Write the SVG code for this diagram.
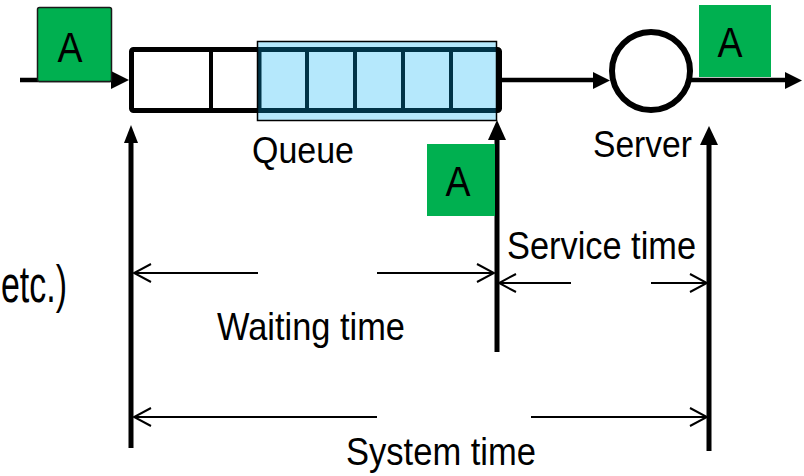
<svg xmlns="http://www.w3.org/2000/svg" width="804" height="476" viewBox="0 0 804 476">
<style>
.t{font-family:"Liberation Sans",Arial,sans-serif;fill:#000}
.lbl{font-size:39px}
.a{font-size:42px;text-anchor:middle}
.thick{stroke:#000;stroke-width:5;fill:none}
.flow{stroke:#000;stroke-width:4.5;fill:none}
.dim{stroke:#000;stroke-width:2;fill:none}
.green{fill:#00b050}
</style>
<defs>
<marker id="open" viewBox="0 0 20 20" refX="18" refY="10" markerWidth="20" markerHeight="20" markerUnits="userSpaceOnUse" orient="auto">
<path d="M1,1 L18,10 L1,19" fill="none" stroke="#000" stroke-width="2"/>
</marker>
</defs>

<g id="connectors">
<line class="flow" x1="20" y1="80" x2="112" y2="80"/>
<polygon points="111,71 129,80 111,89" fill="#000"/>
<line class="flow" x1="500" y1="80" x2="595" y2="80"/>
<polygon points="593,72 610,80.5 593,89" fill="#000"/>
<line class="flow" x1="690" y1="80" x2="787" y2="80"/>
<polygon points="785,72 802,80.5 785,89" fill="#000"/>
<line class="thick" x1="131" y1="140" x2="131" y2="448"/>
<polygon points="124,143 131,125 138,143" fill="#000"/>
<line class="thick" x1="497" y1="136" x2="497" y2="352"/>
<polygon points="488,140 497,120 506,140" fill="#000"/>
<line class="thick" x1="709" y1="140" x2="709" y2="451"/>
<polygon points="700,145 709,126 718,145" fill="#000"/>
<line class="dim" x1="258" y1="273" x2="134" y2="273" marker-end="url(#open)"/>
<line class="dim" x1="377" y1="273" x2="494" y2="273" marker-end="url(#open)"/>
<line class="dim" x1="571" y1="283" x2="499" y2="283" marker-end="url(#open)"/>
<line class="dim" x1="651" y1="283" x2="707" y2="283" marker-end="url(#open)"/>
<line class="dim" x1="377" y1="417" x2="134" y2="417" marker-end="url(#open)"/>
<line class="dim" x1="531" y1="417" x2="707" y2="417" marker-end="url(#open)"/>
</g>

<g id="arrival">
<rect x="37.5" y="7.5" width="74" height="74" rx="2" class="green" stroke="#1a1a1a" stroke-width="1.5"/>
<text class="t a" x="70" y="62" textLength="25" lengthAdjust="spacingAndGlyphs">A</text>
</g>

<g id="queue">
<rect x="131.5" y="49.5" width="368" height="61" rx="2" fill="#fff" stroke="#000" stroke-width="5"/>
<line x1="211" y1="50" x2="211" y2="110" stroke="#000" stroke-width="4"/>
<line x1="259.5" y1="50" x2="259.5" y2="110" stroke="#000" stroke-width="4"/>
<line x1="307" y1="50" x2="307" y2="110" stroke="#000" stroke-width="4"/>
<line x1="355" y1="50" x2="355" y2="110" stroke="#000" stroke-width="4"/>
<line x1="403" y1="50" x2="403" y2="110" stroke="#000" stroke-width="4"/>
<line x1="451" y1="50" x2="451" y2="110" stroke="#000" stroke-width="4"/>
<rect x="257.5" y="41.5" width="239" height="79" fill="#00b0f5" fill-opacity="0.29" stroke="#000" stroke-width="1.5"/>
<text class="t" x="252" y="163" font-size="37" textLength="102" lengthAdjust="spacingAndGlyphs">Queue</text>
</g>

<g id="waiting-customer">
<rect x="427" y="144" width="68" height="72" class="green"/>
<text class="t a" x="458" y="196" textLength="25" lengthAdjust="spacingAndGlyphs">A</text>
</g>

<g id="server">
<circle cx="651" cy="71" r="39" fill="#fff" stroke="#000" stroke-width="6"/>
<text class="t" x="593" y="157" font-size="36" textLength="99" lengthAdjust="spacingAndGlyphs">Server</text>
</g>

<g id="departure">
<rect x="699" y="5" width="72" height="72" class="green"/>
<text class="t a" x="730" y="57" textLength="25" lengthAdjust="spacingAndGlyphs">A</text>
</g>

<g id="labels">
<text class="t lbl" x="507" y="259" textLength="189" lengthAdjust="spacingAndGlyphs">Service time</text>
<text class="t lbl" x="217" y="340" textLength="188" lengthAdjust="spacingAndGlyphs">Waiting time</text>
<text class="t lbl" x="346" y="465" textLength="190" lengthAdjust="spacingAndGlyphs">System time</text>
<text class="t" x="1" y="302" font-size="52" textLength="66" lengthAdjust="spacingAndGlyphs">etc.)</text>
</g>
</svg>
